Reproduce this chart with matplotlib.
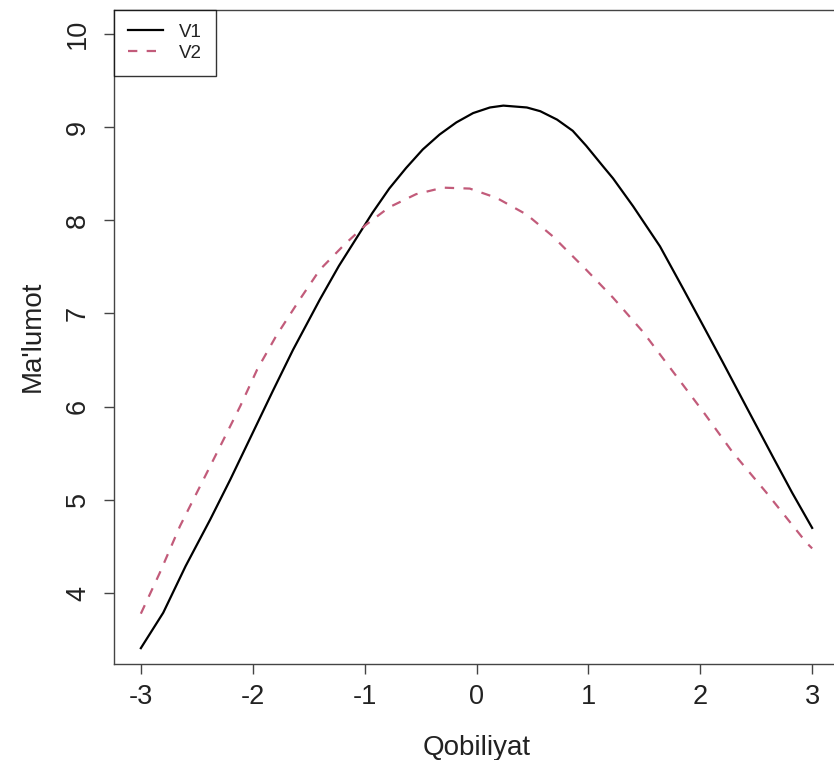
import numpy as np
import matplotlib
matplotlib.use("Agg")
import matplotlib.pyplot as plt

# Information curves (ability -> information)
v1_x = [-3.0, -2.8, -2.6, -2.38, -2.2, -2.0, -1.82, -1.64, -1.4, -1.23, -0.93, -0.78,
        -0.63, -0.48, -0.33, -0.18, -0.03, 0.12, 0.24, 0.45, 0.57, 0.72, 0.86, 0.98,
        1.13, 1.22, 1.4, 1.64, 1.85, 2.03, 2.2, 2.42, 2.65, 2.82, 3.0]
v1 = [3.41, 3.79, 4.29, 4.79, 5.22, 5.72, 6.17, 6.61, 7.15, 7.51, 8.08, 8.34,
      8.56, 8.76, 8.92, 9.05, 9.15, 9.21, 9.23, 9.21, 9.17, 9.08, 8.96, 8.80,
      8.58, 8.45, 8.15, 7.72, 7.26, 6.86, 6.48, 5.98, 5.46, 5.08, 4.70]
v2_x = [-3.0, -2.83, -2.65, -2.44, -2.26, -2.11, -1.96, -1.79, -1.58, -1.4, -1.18,
        -0.99, -0.78, -0.54, -0.3, -0.06, 0.18, 0.45, 0.68, 0.98, 1.22, 1.49, 1.76,
        2.03, 2.29, 2.59, 2.95, 3.0]
v2 = [3.78, 4.22, 4.72, 5.22, 5.65, 6.01, 6.40, 6.76, 7.15, 7.47, 7.74,
      7.95, 8.14, 8.28, 8.35, 8.34, 8.24, 8.06, 7.83, 7.47, 7.17, 6.80, 6.37,
      5.94, 5.51, 5.08, 4.54, 4.48]
series_names = ["V1", "V2"]
x_ticks = [-3, -2, -1, 0, 1, 2, 3]
y_ticks = [4, 5, 6, 7, 8, 9, 10]

plt.rcParams["font.family"] = ["Liberation Sans", "DejaVu Sans"]

W, H = 834, 760
fig = plt.figure(figsize=(W / 100, H / 100), dpi=100)
# plot region in pixels (right edge falls just outside the image, like the original)
left, right, top, bottom = 114, 839, 9.6, 664
ax = fig.add_axes([left / W, 1 - bottom / H, (right - left) / W, (bottom - top) / H])

ax.plot(v1_x, v1, color="black", lw=1.6, label=series_names[0])
ax.plot(v2_x, v2, color="#C25B7A", lw=1.6, linestyle=(0, (4.2, 4.2)), label=series_names[1])

ax.set_xlim(-3.24, 3.24)
ax.set_ylim(3.24, 10.26)
ax.set_xticks(x_ticks)
ax.set_yticks(y_ticks)
ax.set_xticklabels([str(t) for t in x_ticks])
ax.set_yticklabels([str(t) for t in y_ticks], rotation=90, va="center")

for s in ax.spines.values():
    s.set_color("#444444")
    s.set_linewidth(1.0)
ax.tick_params(direction="out", length=7.5, width=1.0, color="#444444",
               labelsize=19.5, colors="#222222")
ax.tick_params(axis="x", pad=7)
ax.tick_params(axis="y", pad=9)

ax.set_xlabel("Qobiliyat", fontsize=20, color="#222222", labelpad=18)
ax.set_ylabel("Ma'lumot", fontsize=20, color="#222222", labelpad=14)

leg = ax.legend(loc="upper left", fontsize=13.5, frameon=True, fancybox=False,
                borderaxespad=0, borderpad=0.75, handlelength=1.85,
                handletextpad=0.85, labelspacing=0.2)
leg.get_frame().set_edgecolor("black")
leg.get_frame().set_linewidth(1.0)
for t in leg.get_texts():
    t.set_color("#222222")

plt.savefig("out.png", dpi=100)
